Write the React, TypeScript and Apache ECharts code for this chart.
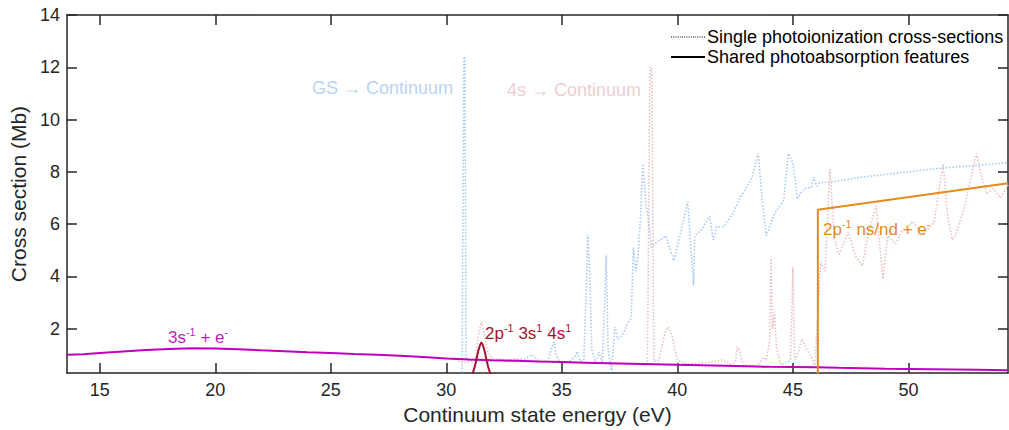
import React, { useEffect, useRef } from 'react';
import * as echarts from 'echarts';

// ---- axes ----
const xTicks = [15, 20, 25, 30, 35, 40, 45, 50];
const yTicks = [2, 4, 6, 8, 10, 12, 14];
const xMin = 13.58;
const xMax = 54.31;
const yMin = 0.3;
const yMax = 14;

// ---- GS -> Continuum (single photoionization, dotted blue) ----
const gsEnergy = [30.68, 30.76, 30.8, 30.86, 30.95, 31.5, 32.5, 33.4, 33.7, 34.0, 34.4, 34.55, 34.66, 34.75, 34.9, 35.3, 35.55, 35.67, 35.78, 35.95, 36.05, 36.12, 36.2, 36.3, 36.45, 36.6, 36.75, 36.85, 36.92, 37.0, 37.15, 37.3, 37.42, 37.55, 37.7, 37.85, 38.0, 38.1, 38.2, 38.3, 38.4, 38.5, 38.65, 38.73, 38.88, 39.1, 39.5, 39.85, 40.45, 40.7, 40.75, 41.05, 41.4, 41.55, 41.7, 42.0, 42.4, 42.75, 43.2, 43.5, 43.7, 43.85, 44.2, 44.6, 44.8, 45.0, 45.2, 45.35, 45.5, 45.8, 45.9, 46.03, 46.2, 46.6, 48.0, 50.0, 51.5, 53.0, 54.31];
const gsSigma = [0.2, 12.4, 12.4, 0.9, 0.78, 0.74, 0.8, 0.85, 1.0, 0.8, 0.75, 1.25, 1.5, 1.0, 0.72, 0.74, 0.9, 1.12, 0.75, 0.8, 3.2, 5.6, 4.3, 1.2, 0.72, 1.1, 0.7, 3.0, 4.8, 1.2, 0.4, 2.07, 1.6, 1.7, 1.9, 2.2, 2.4, 5.1, 4.2, 4.8, 6.2, 8.3, 6.75, 6.25, 5.1, 5.3, 5.55, 4.6, 6.85, 3.65, 5.55, 5.8, 6.3, 5.4, 5.9, 5.9, 6.4, 7.05, 7.7, 8.7, 6.7, 5.55, 6.4, 6.9, 8.7, 8.35, 6.95, 7.2, 7.35, 7.4, 7.8, 7.45, 7.6, 7.6, 7.8, 8.0, 8.15, 8.25, 8.35];

// ---- 4s -> Continuum (single photoionization, dotted pink) ----
const s4Energy = [30.5, 31.0, 31.25, 31.4, 31.52, 31.65, 31.8, 32.0, 33.0, 35.0, 36.5, 38.0, 38.7, 38.82, 38.9, 38.98, 39.2, 39.45, 39.6, 39.75, 40.0, 40.4, 41.0, 41.6, 41.9, 42.3, 42.5, 42.6, 42.7, 42.85, 43.5, 43.7, 43.85, 44.0, 44.05, 44.12, 44.2, 44.3, 44.5, 44.9, 45.0, 45.08, 45.2, 45.4, 45.6, 45.8, 45.95, 46.1, 46.2, 46.4, 46.6, 46.8, 47.0, 47.4, 47.7, 48.0, 48.3, 48.6, 48.9, 49.1, 49.45, 49.7, 50.2, 50.6, 51.1, 51.5, 51.7, 51.9, 52.0, 52.4, 52.95, 53.2, 53.4, 53.65, 54.0, 54.31];
const s4Sigma = [0.75, 0.7, 0.85, 1.8, 2.27, 1.8, 1.1, 0.85, 0.78, 0.72, 0.68, 0.66, 0.6, 12.0, 12.0, 0.75, 0.8, 1.8, 2.07, 1.8, 0.8, 0.65, 0.68, 0.75, 0.8, 0.65, 0.7, 1.3, 1.1, 0.6, 0.6, 0.9, 0.8, 1.6, 4.75, 2.0, 2.65, 1.2, 0.6, 0.8, 4.35, 0.8, 1.0, 1.6, 1.2, 0.9, 0.6, 2.9, 4.55, 4.2, 8.1, 5.4, 4.85, 5.7, 4.8, 4.4, 5.8, 6.7, 3.9, 5.55, 5.25, 5.7, 6.1, 5.6, 6.05, 8.3, 6.3, 5.4, 5.5, 6.55, 8.7, 7.7, 7.15, 7.35, 7.0, 7.5];

// ---- 3s^-1 + e^- (shared, magenta) ----
const s3Energy = [13.58, 14.3, 15, 16, 17, 18, 19, 20, 21, 22, 23, 24, 25, 26, 27, 28, 29, 30, 31, 32, 33, 34, 35, 36, 37, 38, 39, 40, 41, 42, 43, 44, 45, 46, 47, 48, 49, 50, 51, 52, 53, 54.31];
const s3Sigma = [1.0, 1.02, 1.07, 1.13, 1.18, 1.22, 1.25, 1.24, 1.21, 1.17, 1.14, 1.1, 1.07, 1.03, 1.0, 0.96, 0.92, 0.86, 0.82, 0.79, 0.77, 0.74, 0.72, 0.7, 0.68, 0.66, 0.64, 0.62, 0.6, 0.58, 0.56, 0.54, 0.53, 0.52, 0.5, 0.49, 0.47, 0.46, 0.45, 0.44, 0.43, 0.41];

// ---- 2p^-1 3s^1 4s^1 (shared, dark red) ----
const satEnergy = [30.9, 31.0, 31.1, 31.2, 31.3, 31.4, 31.52, 31.64, 31.74, 31.84, 31.94, 32.04, 32.14];
const satSigma = [0.05, 0.1, 0.23, 0.45, 0.8, 1.2, 1.47, 1.2, 0.8, 0.45, 0.23, 0.1, 0.05];

// ---- 2p^-1 ns/nd + e^- (shared, orange) ----
const ndEnergy = [46.08, 46.08, 54.31];
const ndSigma = [0, 6.55, 7.56];

const zip = (a: number[], b: number[]) => a.map((x, i) => [x, b[i]]);

const FONT = '"Liberation Sans", Arial, Helvetica, sans-serif';
const AX = '#262626';

export default function App() {
  const ref = useRef<HTMLDivElement>(null);
  useEffect(() => {
    document.body.style.margin = '0';
    if (!ref.current) return;
    const chart = echarts.init(ref.current, undefined, { renderer: 'svg' });
    const axisCommon = {
      type: 'value' as const,
      splitLine: { show: false },
      axisLine: { show: true, onZero: false, lineStyle: { color: AX, width: 1.5 } },
    };
    const sup = { fontSize: 11, verticalAlign: 'top', lineHeight: 12, fontFamily: FONT };
    chart.setOption({
      animation: false,
      grid: { left: 63, top: 15, right: 1, bottom: 55, containLabel: false },
      xAxis: [
        {
          ...axisCommon,
          min: xMin,
          max: xMax,
          position: 'bottom',
          axisTick: { show: true, inside: true, length: 10, customValues: xTicks, lineStyle: { color: AX, width: 1.5 } },
          axisLabel: { customValues: xTicks, fontSize: 18, color: AX, margin: 8, fontFamily: FONT },
          name: 'Continuum state energy (eV)',
          nameLocation: 'middle',
          nameGap: 28,
          nameTextStyle: { fontSize: 21, color: AX, fontFamily: FONT },
        },
        {
          ...axisCommon,
          min: xMin,
          max: xMax,
          position: 'top',
          axisTick: { show: true, inside: true, length: 10, customValues: xTicks, lineStyle: { color: AX, width: 1.5 } },
          axisLabel: { show: false },
        },
      ],
      yAxis: [
        {
          ...axisCommon,
          min: yMin,
          max: yMax,
          position: 'left',
          axisTick: { show: true, inside: true, length: 10, customValues: yTicks, lineStyle: { color: AX, width: 1.5 } },
          axisLabel: { customValues: yTicks, fontSize: 18, color: AX, margin: 7, fontFamily: FONT },
          name: 'Cross section (Mb)',
          nameLocation: 'middle',
          nameGap: 32,
          nameRotate: 90,
          nameTextStyle: { fontSize: 21, color: AX, fontFamily: FONT },
        },
        {
          ...axisCommon,
          min: yMin,
          max: yMax,
          position: 'right',
          axisTick: { show: true, inside: true, length: 10, customValues: yTicks, lineStyle: { color: AX, width: 1.5 } },
          axisLabel: { show: false },
        },
      ],
      series: [
        {
          name: 'GS → Continuum',
          type: 'line',
          data: zip(gsEnergy, gsSigma),
          symbol: 'none',
          lineStyle: { color: '#a9c8ef', width: 1.6, type: [1.5, 1.8] },
          z: 1,
        },
        {
          name: '4s → Continuum',
          type: 'line',
          data: zip(s4Energy, s4Sigma),
          symbol: 'none',
          lineStyle: { color: '#e6c0c0', width: 1.6, type: [1.5, 1.8] },
          z: 1,
        },
        {
          name: '3s-1 + e-',
          type: 'line',
          data: zip(s3Energy, s3Sigma),
          symbol: 'none',
          lineStyle: { color: '#bf00bf', width: 2 },
          z: 3,
        },
        {
          name: '2p-1 3s1 4s1',
          type: 'line',
          data: zip(satEnergy, satSigma),
          symbol: 'none',
          smooth: 0.3,
          lineStyle: { color: '#a2142f', width: 2 },
          z: 3,
        },
        {
          name: '2p-1 ns/nd + e-',
          type: 'line',
          data: zip(ndEnergy, ndSigma),
          symbol: 'none',
          lineStyle: { color: '#e68a1c', width: 2 },
          z: 3,
        },
      ],
      graphic: [
        { type: 'line', shape: { x1: 671, y1: 37, x2: 705, y2: 37 }, style: { stroke: '#000', lineWidth: 1.2, lineDash: [1, 1.2] }, z: 10 },
        { type: 'line', shape: { x1: 671, y1: 57, x2: 705, y2: 57 }, style: { stroke: '#000', lineWidth: 2 }, z: 10 },
        { type: 'text', x: 707, y: 37, style: { text: 'Single photoionization cross-sections', font: `18px ${FONT}`, fill: '#000', verticalAlign: 'middle' }, z: 10 },
        { type: 'text', x: 707, y: 57, style: { text: 'Shared photoabsorption features', font: `18px ${FONT}`, fill: '#000', verticalAlign: 'middle' }, z: 10 },
        { type: 'text', x: 312, y: 88, style: { text: 'GS → Continuum', font: `18px ${FONT}`, fill: '#b9d3f3', verticalAlign: 'middle' }, z: 10 },
        { type: 'text', x: 507, y: 90, style: { text: '4s → Continuum', font: `18px ${FONT}`, fill: '#ebcfcf', verticalAlign: 'middle' }, z: 10 },
        {
          type: 'text', x: 168, y: 337,
          style: { text: '3s{sup|-1} + e{sup|-}', font: `17px ${FONT}`, fill: '#c01ec0', verticalAlign: 'middle', lineHeight: 22, rich: { sup: { ...sup, fill: '#c01ec0' } } },
          z: 10,
        },
        {
          type: 'text', x: 485, y: 333,
          style: { text: '2p{sup|-1} 3s{sup|1} 4s{sup|1}', font: `17px ${FONT}`, fill: '#a2142f', verticalAlign: 'middle', lineHeight: 22, rich: { sup: { ...sup, fill: '#a2142f' } } },
          z: 10,
        },
        {
          type: 'text', x: 823, y: 229,
          style: { text: '2p{sup|-1} ns/nd + e{sup|-}', font: `17px ${FONT}`, fill: '#e68a1c', verticalAlign: 'middle', lineHeight: 22, rich: { sup: { ...sup, fill: '#e68a1c' } } },
          z: 10,
        },
      ],
    });
    return () => chart.dispose();
  }, []);
  return <div ref={ref} style={{ width: 1009, height: 430 }} />;
}
